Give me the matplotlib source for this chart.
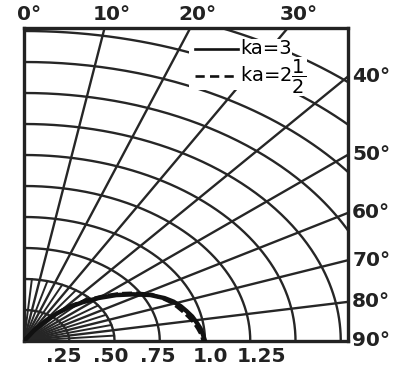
import numpy as np
import matplotlib
matplotlib.use("Agg")
import matplotlib.pyplot as plt

plt.rcParams['font.family'] = ['DejaVu Sans']
plt.rcParams['mathtext.fontset'] = 'dejavusans'

# radial grid (radius units) and angle grid (degrees from vertical)
circle_r = [0.25, 0.5, 0.75, 1.0, 1.25, 1.5, 1.75, 2.0, 2.25, 2.5, 2.75]
ray_deg = [10, 20, 30, 40, 50, 60, 70, 80]
short_ray_deg = [5, 15, 25, 35, 45, 55, 65, 75, 85]

top_labels = ['0°', '10°', '20°', '30°']
top_label_px = [29, 112, 197, 299]
right_deg = [40, 50, 60, 70, 80, 90]
bottom_labels = ['.25', '.50', '.75', '1.0', '1.25']
bottom_label_r = [0.22, 0.48, 0.74, 1.03, 1.31]

# radiation patterns
ka3_deg = [30, 33, 36, 39, 42, 46, 50, 54, 58, 62, 66, 69, 72, 75, 78, 81, 84, 87, 90]
ka3_r = [0.0, 0.10, 0.19, 0.28, 0.36, 0.45, 0.54, 0.63, 0.71, 0.79, 0.85, 0.885,
         0.91, 0.93, 0.95, 0.965, 0.98, 0.99, 1.0]
ka25_deg = [30, 33, 36, 39, 42, 46, 50, 54, 58, 62, 66, 69, 72, 75, 78, 81, 84, 87, 90]
ka25_r = [0.0, 0.11, 0.20, 0.29, 0.38, 0.47, 0.56, 0.65, 0.73, 0.80, 0.84, 0.87,
          0.89, 0.91, 0.93, 0.95, 0.965, 0.98, 0.99]

W, H = 404, 367
fig = plt.figure(figsize=(W / 100, H / 100), dpi=100)
ax = fig.add_axes([24 / W, (H - 341) / H, 324 / W, 313 / H])
xmax = 324 / 181.0
ymax = 313 / 124.0
ax.set_xlim(0, xmax)
ax.set_ylim(0, ymax)

gc = '#262626'
t = np.radians(np.linspace(0, 90, 200))
for r in circle_r:
    ax.plot(r * np.sin(t), r * np.cos(t), color=gc, lw=1.7, zorder=1)
for d in ray_deg:
    a = np.radians(d)
    ax.plot([0, 4 * np.sin(a)], [0, 4 * np.cos(a)], color=gc, lw=1.7, zorder=1)
for d in short_ray_deg:
    a = np.radians(d)
    ax.plot([0, 0.5 * np.sin(a)], [0, 0.5 * np.cos(a)], color=gc, lw=1.4, zorder=1)

a3 = np.radians(ka3_deg)
ax.plot(np.array(ka3_r) * np.sin(a3), np.array(ka3_r) * np.cos(a3),
        color='#111', lw=3.2, zorder=3, solid_capstyle='round')
a25 = np.radians(ka25_deg)
ax.plot(np.array(ka25_r) * np.sin(a25), np.array(ka25_r) * np.cos(a25),
        color='#111', lw=2.4, ls=(0, (3, 1.2)), zorder=3)

for s in ax.spines.values():
    s.set_linewidth(2.4)
    s.set_color('#222')
ax.set_xticks([])
ax.set_yticks([])


# legend
def ax_xy(px, py):
    return (px - 24) / 324.0, (341 - py) / 313.0


tr = ax.transAxes
ax.add_patch(plt.Rectangle(ax_xy(189, 90), 52 / 324.0, 50 / 313.0,
                           transform=tr, facecolor='white', edgecolor='none', zorder=4))
x0, y0 = ax_xy(195, 49)
x1, _ = ax_xy(238, 49)
ax.plot([x0, x1], [y0, y0], transform=tr, color='#111', lw=1.9, zorder=5)
x0, y1 = ax_xy(195, 76)
ax.plot([x0, x1], [y1, y1], transform=tr, color='#111', lw=1.9,
        ls=(0, (3.5, 2)), zorder=5)
tx, _ = ax_xy(240, 0)
_, yb = ax_xy(0, 82)
box = dict(facecolor='white', edgecolor='none', pad=0.3)
ax.text(tx, y0, 'ka=3', transform=tr, fontsize=14, va='center', ha='left',
        zorder=6, bbox=box)
ax.text(tx, yb, r'ka=2$\dfrac{1}{2}$', transform=tr, fontsize=14,
        va='baseline', ha='left', zorder=6, bbox=box)

fs = 14.5
for lab, px in zip(top_labels, top_label_px):
    fig.text(px / W, 1 - 14 / H, lab, fontsize=fs, ha='center', va='center',
             fontweight='bold', color='#222')
for d in right_deg:
    yv = xmax / np.tan(np.radians(d)) if d < 90 else 0.0
    ax.annotate(f'{d}°', (xmax, yv), xytext=(3, 0), textcoords='offset points',
                fontsize=fs, ha='left', va='center', annotation_clip=False,
                fontweight='bold', color='#222')
for lab, r in zip(bottom_labels, bottom_label_r):
    ax.annotate(lab, (r, 0), xytext=(0, -11), textcoords='offset points',
                fontsize=fs, ha='center', va='center', annotation_clip=False,
                fontweight='bold', color='#222')

fig.savefig('out.png', dpi=100)
